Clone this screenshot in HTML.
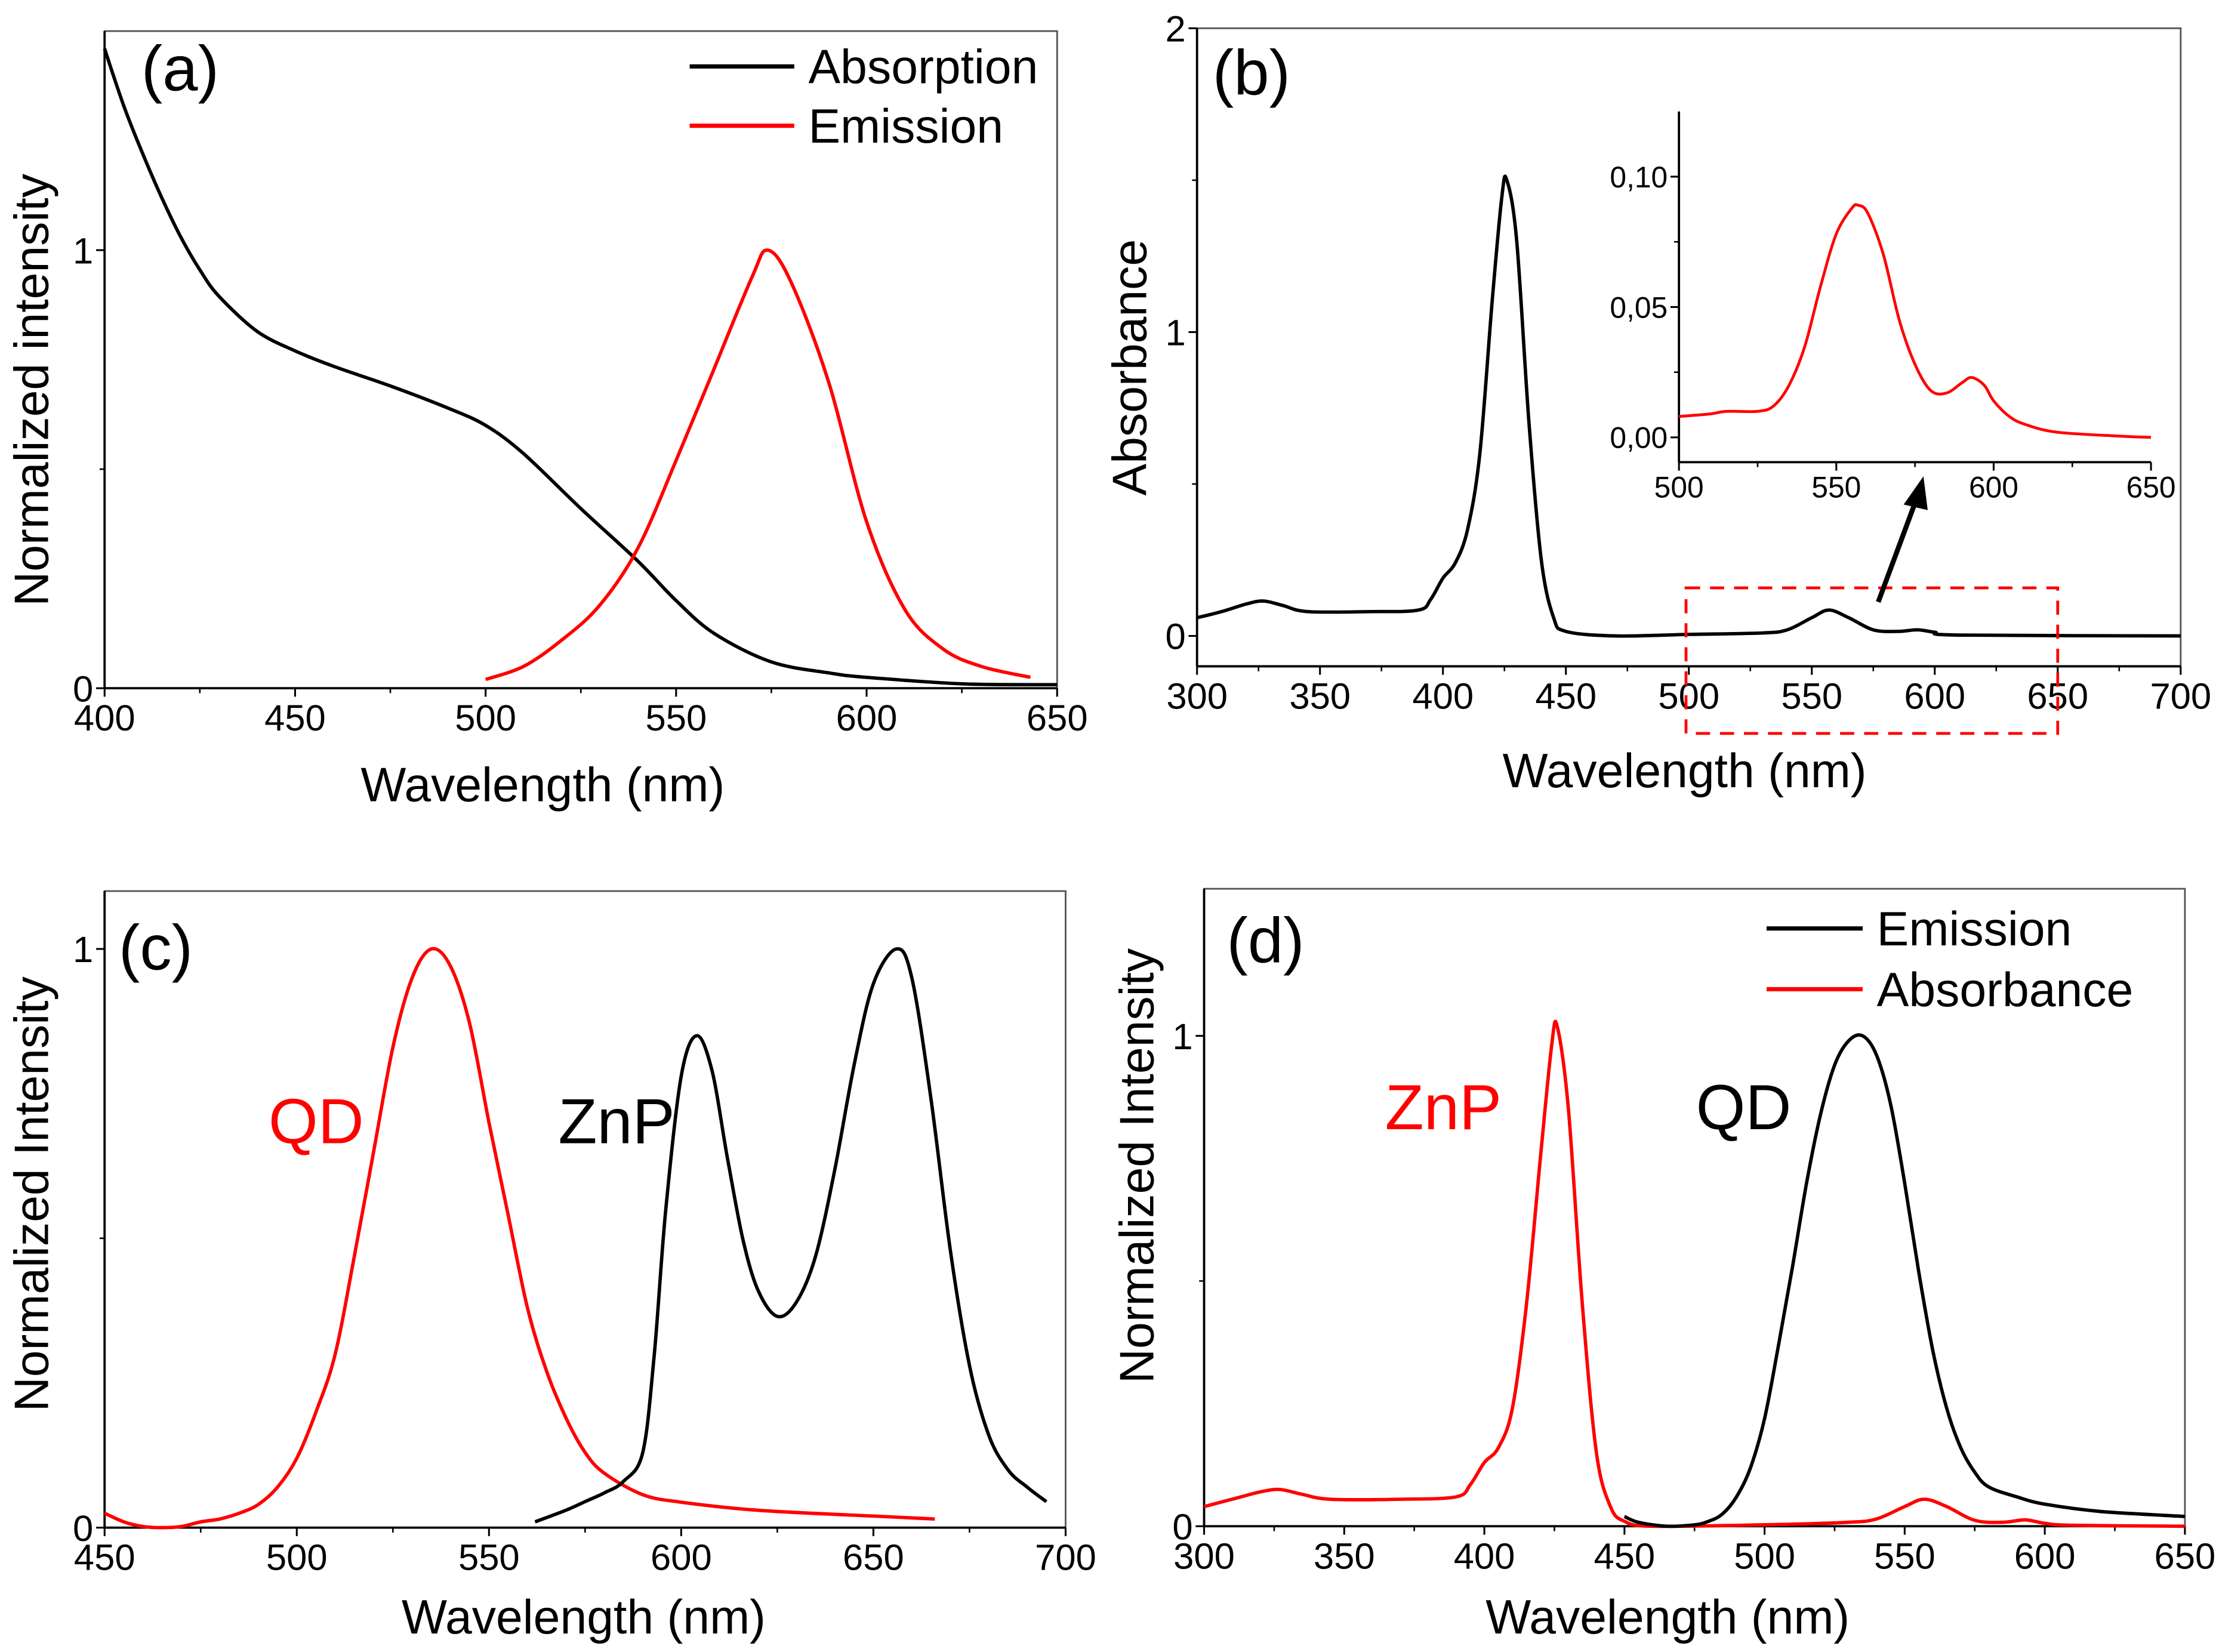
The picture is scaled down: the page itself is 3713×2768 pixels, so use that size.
<!DOCTYPE html>
<html><head><meta charset="utf-8"><style>
html,body{margin:0;padding:0;background:#fff}
svg{display:block}
text{font-family:"Liberation Sans",Arial,sans-serif}
</style></head><body>
<svg id="fig" width="3713" height="2768" viewBox="0 0 1568 1169" preserveAspectRatio="none" xmlns="http://www.w3.org/2000/svg"></svg>
<script>
// Panel (a)
const aAbsX=[400,405,410,415,420,425,430,440,450,460,475,490,500,510,525,540,550,560,575,590,600,625,650];
const aAbsY=[1.46,1.33,1.22,1.12,1.03,0.955,0.895,0.815,0.77,0.735,0.69,0.64,0.6,0.535,0.41,0.29,0.2,0.125,0.06,0.035,0.025,0.01,0.008];
const aEmX=[500,510,520,530,540,550,560,570,574,580,590,600,610,620,630,643];
const aEmY=[0.02,0.05,0.11,0.19,0.32,0.52,0.73,0.94,1.0,0.93,0.70,0.38,0.18,0.09,0.05,0.025];
// Panel (b)
const bX=[300,310,320,327,335,345,370,390,395,400,405,410,415,420,424,426,430,435,440,445,450,470,500,530,540,550,557,565,575,585,593,600,610,700];
const bY=[0.06,0.08,0.105,0.115,0.1,0.08,0.08,0.085,0.12,0.19,0.24,0.35,0.6,1.1,1.45,1.5,1.3,0.7,0.25,0.06,0.015,0.0,0.005,0.01,0.02,0.06,0.085,0.06,0.02,0.015,0.02,0.012,0.003,0.0];
const insX=[500,510,515,525,530,535,540,545,550,555,557,560,565,570,575,580,585,590,593,597,600,605,610,620,640,650];
const insY=[0.008,0.009,0.01,0.01,0.012,0.02,0.035,0.058,0.078,0.088,0.089,0.086,0.07,0.045,0.028,0.018,0.017,0.021,0.023,0.02,0.014,0.008,0.005,0.002,0.0005,0.0];
// Panel (c)
const cQdX=[450,455,460,465,470,475,480,485,490,495,500,505,510,515,520,525,530,535,540,545,550,555,560,565,570,575,580,590,600,620,650,666];
const cQdY=[0.025,0.01,0.002,0.0,0.002,0.01,0.015,0.025,0.04,0.07,0.12,0.2,0.3,0.47,0.65,0.83,0.95,1.0,0.97,0.87,0.7,0.54,0.38,0.27,0.19,0.13,0.094,0.057,0.044,0.03,0.02,0.015];
const cZnX=[562,570,575,580,585,590,593,596,600,604,608,612,616,620,625,630,635,640,645,650,656,660,665,670,675,680,685,690,695];
const cZnY=[0.01,0.03,0.045,0.06,0.08,0.13,0.3,0.55,0.78,0.85,0.79,0.64,0.5,0.41,0.365,0.39,0.47,0.62,0.8,0.94,1.0,0.95,0.74,0.48,0.28,0.16,0.1,0.07,0.045];
// Panel (d)
const dAbX=[300,310,320,327,335,345,370,390,395,400,405,410,415,420,424,426,430,435,440,445,450,460,500,530,540,550,557,565,575,585,593,600,610,650];
const dAbY=[0.04,0.055,0.07,0.075,0.065,0.055,0.055,0.06,0.085,0.13,0.16,0.24,0.45,0.75,0.98,1.02,0.85,0.45,0.15,0.04,0.01,0.0,0.003,0.008,0.015,0.04,0.055,0.04,0.012,0.008,0.013,0.006,0.002,0.0];
const dEmX=[450,455,465,475,480,485,490,495,500,505,510,515,520,525,530,535,540,545,550,555,560,565,570,575,580,590,600,620,650];
const dEmY=[0.02,0.008,0.0,0.003,0.01,0.025,0.06,0.12,0.22,0.37,0.53,0.7,0.84,0.94,0.99,1.0,0.96,0.86,0.7,0.52,0.36,0.24,0.16,0.11,0.08,0.06,0.045,0.03,0.02];
// ticks
const aXTicks=[400,450,500,550,600,650], aYTicks=[0,1];
const bXTicks=[300,350,400,450,500,550,600,650,700], bYTicks=[0,1,2];
const insXTicks=[500,550,600,650], insYTicks=[0,0.05,0.10], insYLabels=["0,00","0,05","0,10"];
const cXTicks=[450,500,550,600,650,700], cYTicks=[0,1];
const dXTicks=[300,350,400,450,500,550,600,650], dYTicks=[0,1];

const NS="http://www.w3.org/2000/svg";
const svg=document.getElementById('fig');
function mk(tag,attrs,parent){const e=document.createElementNS(NS,tag);for(const k in attrs)e.setAttribute(k,attrs[k]);(parent||svg).appendChild(e);return e;}
function txt(s,attrs,parent){const e=mk('text',attrs,parent);e.textContent=s;return e;}
function scale(d0,d1,r0,r1){return v=>r0+(v-d0)*(r1-r0)/(d1-d0);}
function smooth(pts){
  let d='M'+pts[0][0].toFixed(1)+' '+pts[0][1].toFixed(1);
  for(let i=0;i<pts.length-1;i++){
    const p0=pts[Math.max(0,i-1)],p1=pts[i],p2=pts[i+1],p3=pts[Math.min(pts.length-1,i+2)];
    const c1x=p1[0]+(p2[0]-p0[0])/6,c1y=p1[1]+(p2[1]-p0[1])/6;
    const c2x=p2[0]-(p3[0]-p1[0])/6,c2y=p2[1]-(p3[1]-p1[1])/6;
    d+=' C'+c1x.toFixed(1)+' '+c1y.toFixed(1)+' '+c2x.toFixed(1)+' '+c2y.toFixed(1)+' '+p2[0].toFixed(1)+' '+p2[1].toFixed(1);
  }
  return d;
}

function panel(cfg){
  const g=mk('g',{});
  
  
  const X=scale(cfg.x0,cfg.x1,cfg.L,cfg.R), Y=scale(cfg.y0v,cfg.y1v,cfg.y0p,cfg.y1p);
  const T=Y(cfg.ymax), B=Y(cfg.ymin);
  if(cfg.box){
    const r=mk('rect',{x:cfg.L,y:T,width:cfg.R-cfg.L,height:B-T,fill:'none',stroke:'#555',"stroke-width":1.2},g);
    
  }
  const ax=mk('line',{x1:cfg.L,y1:B,x2:cfg.R,y2:B,stroke:'#000','stroke-width':1.6},g);
  
  const ay=mk('line',{x1:cfg.L,y1:T,x2:cfg.L,y2:B,stroke:'#000','stroke-width':1.6},g);
  
  const fs=cfg.fs||26;
  cfg.xt.forEach((v,i)=>{
    mk('line',{x1:X(v),y1:B,x2:X(v),y2:B+6,stroke:'#000','stroke-width':1.3},g);
    if(i<cfg.xt.length-1){const m=(v+cfg.xt[i+1])/2;mk('line',{x1:X(m),y1:B,x2:X(m),y2:B+3.5,stroke:'#000','stroke-width':1.1},g);}
    const t=txt(String(v),{x:X(v),y:B+fs+4,'text-anchor':'middle','font-size':fs},g);
    
  });
  cfg.yt.forEach((v,i)=>{
    mk('line',{x1:cfg.L,y1:Y(v),x2:cfg.L-6,y2:Y(v),stroke:'#000','stroke-width':1.3},g);
    if(i<cfg.yt.length-1){const m=(v+cfg.yt[i+1])/2;mk('line',{x1:cfg.L,y1:Y(m),x2:cfg.L-3.5,y2:Y(m),stroke:'#000','stroke-width':1.1},g);}
    const lab=cfg.ylab?cfg.ylab[i]:String(v);
    const t=txt(lab,{x:cfg.L-8,y:Y(v)+fs*0.36,'text-anchor':'end','font-size':fs},g);
    
  });
  cfg.series.forEach(s=>{
    const pts=s.x.map((v,i)=>[X(v),Y(s.y[i])]);
    const p=mk('path',{d:smooth(pts),fill:'none',stroke:s.c,'stroke-width':s.w||2.4,'stroke-linejoin':'round'},g);
    
  });
  return {X,Y,g};
}

panel({name:'panel-a',L:74,R:748,x0:400,x1:650,y0v:0,y1v:1,y0p:487,y1p:177,ymin:0,ymax:1.5,box:true,xt:aXTicks,yt:aYTicks,
  series:[{x:aAbsX,y:aAbsY,c:'#000',n:'absorption-line'},{x:aEmX,y:aEmY,c:'#f00',n:'emission-line'}]});
panel({name:'panel-b',L:847,R:1543,x0:300,x1:700,y0v:0,y1v:1,y0p:450,y1p:235,ymin:-0.1,ymax:2,box:true,xt:bXTicks,yt:bYTicks,
  series:[{x:bX,y:bY,c:'#000',n:'absorbance-line'}]});
panel({name:'panel-b-inset',L:1188,R:1522,x0:500,x1:650,y0v:0,y1v:0.1,y0p:309.5,y1p:125,ymin:-0.0095,ymax:0.125,box:false,fs:21,xt:insXTicks,yt:insYTicks,ylab:insYLabels,
  series:[{x:insX,y:insY,c:'#f00',n:'inset-absorbance-line',w:2}]});
panel({name:'panel-c',L:74,R:754,x0:450,x1:700,y0v:0,y1v:1,y0p:1081,y1p:671.5,ymin:0,ymax:1.1,box:true,xt:cXTicks,yt:cYTicks,
  series:[{x:cQdX,y:cQdY,c:'#f00',n:'qd-emission-line'},{x:cZnX,y:cZnY,c:'#000',n:'znp-emission-line'}]});
panel({name:'panel-d',L:852,R:1546,x0:300,x1:650,y0v:0,y1v:1,y0p:1080,y1p:733,ymin:0,ymax:1.3,box:true,xt:dXTicks,yt:dYTicks,
  series:[{x:dAbX,y:dAbY,c:'#f00',n:'znp-absorbance-line'},{x:dEmX,y:dEmY,c:'#000',n:'qd-emission-line'}]});

// red dashed zoom box + arrow
const rb=mk('rect',{x:1193,y:416,width:263,height:103,fill:'none',stroke:'#f00','stroke-width':2,'stroke-dasharray':'10 7'});

const ar=mk('line',{x1:1329,y1:426,x2:1355,y2:356,stroke:'#000','stroke-width':3.5});

const ah=mk('polygon',{points:'1361,337 1347,357 1364,361',fill:'#000'});


function label(s,attrs,name){const t=txt(s,attrs);return t;}
// panel letters
label('(a)',{x:100,y:64,'font-size':45},'panel-a-letter');
label('(b)',{x:858,y:67,'font-size':45},'panel-b-letter');
label('(c)',{x:84,y:686,'font-size':45},'panel-c-letter');
label('(d)',{x:868,y:681,'font-size':45},'panel-d-letter');
// axis titles
label('Wavelength (nm)',{x:384,y:567,'font-size':34,'text-anchor':'middle'},'x-axis-title-a');
label('Wavelength (nm)',{x:1192,y:557,'font-size':34,'text-anchor':'middle'},'x-axis-title-b');
label('Wavelength (nm)',{x:413,y:1156,'font-size':34,'text-anchor':'middle'},'x-axis-title-c');
label('Wavelength (nm)',{x:1180,y:1156,'font-size':34,'text-anchor':'middle'},'x-axis-title-d');
label('Normalized intensity',{x:0,y:0,'font-size':34,'text-anchor':'middle',transform:'translate(34,276) rotate(-90)'},'y-axis-title-a');
label('Absorbance',{x:0,y:0,'font-size':34,'text-anchor':'middle',transform:'translate(811,260) rotate(-90)'},'y-axis-title-b');
label('Normalized Intensity',{x:0,y:0,'font-size':34,'text-anchor':'middle',transform:'translate(34,845) rotate(-90)'},'y-axis-title-c');
label('Normalized Intensity',{x:0,y:0,'font-size':34,'text-anchor':'middle',transform:'translate(816,825) rotate(-90)'},'y-axis-title-d');
// legends
function leg(x1,x2,y,color,s,name){
  const l=mk('line',{x1:x1,y1:y,x2:x2,y2:y,stroke:color,'stroke-width':3});
  
  label(s,{x:x2+10,y:y+12,'font-size':34},name);
}
leg(488,562,47,'#000','Absorption','legend-absorption');
leg(488,562,89,'#f00','Emission','legend-emission');
leg(1250,1318,657,'#000','Emission','legend-emission-d');
leg(1250,1318,700,'#f00','Absorbance','legend-absorbance-d');
// series annotations
label('QD',{x:190,y:809,'font-size':45,fill:'#f00'},'qd-label-c');
label('ZnP',{x:395,y:809,'font-size':45,fill:'#000'},'znp-label-c');
label('ZnP',{x:980,y:799,'font-size':45,fill:'#f00'},'znp-label-d');
label('QD',{x:1200,y:799,'font-size':45,fill:'#000'},'qd-label-d');
</script>
</body></html>
